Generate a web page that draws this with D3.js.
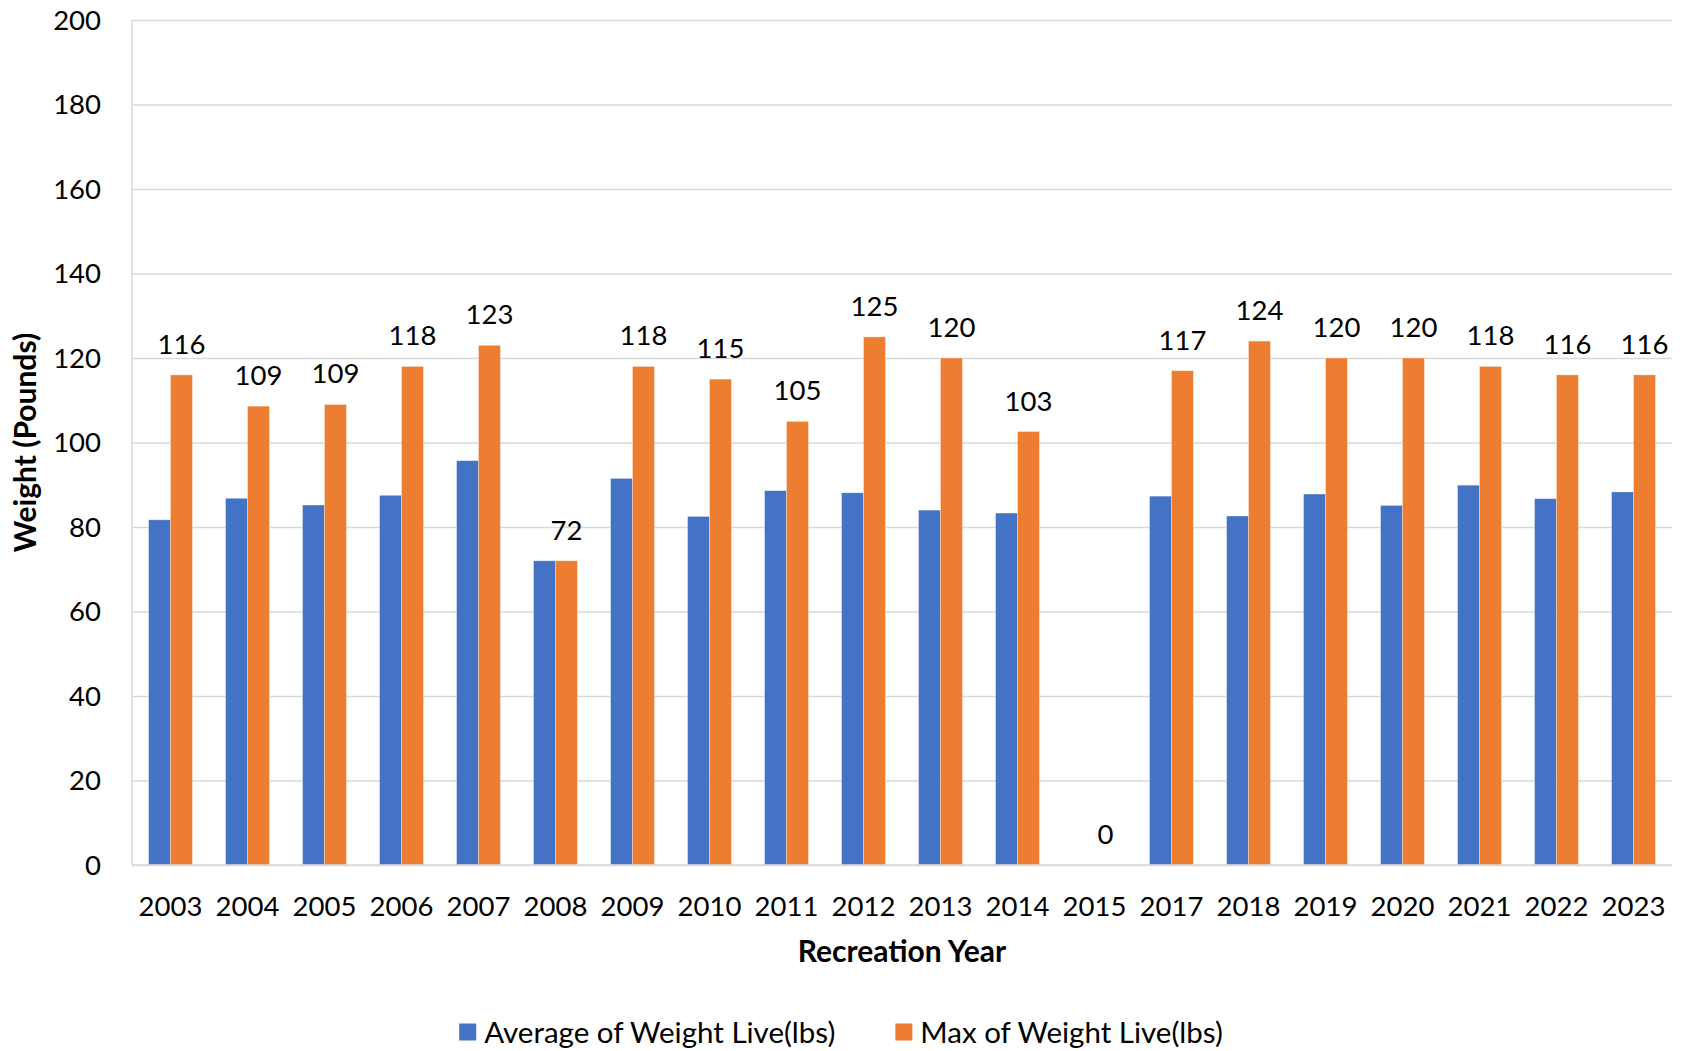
<!DOCTYPE html>
<meta charset="utf-8">
<style>
body { margin: 0; background: #fff; }
text { font-family: Lato, "Open Sans", sans-serif; fill: #000; }
.grid line { stroke: #d9d9d9; stroke-width: 1.5px; }
.grid path { display: none; }
</style>
<body>
<script src="https://cdn.jsdelivr.net/npm/d3@7"></script>
<script>

// chart values
var years = ["2003", "2004", "2005", "2006", "2007", "2008", "2009", "2010", "2011", "2012",
             "2013", "2014", "2015", "2017", "2018", "2019", "2020", "2021", "2022", "2023"];
var avgWeight = [81.7, 86.8, 85.2, 87.5, 95.7, 72.0, 91.5, 82.5, 88.6, 88.1,
                 84.0, 83.3, 0, 87.3, 82.6, 87.8, 85.1, 89.9, 86.7, 88.3];
var maxWeight = [116, 108.6, 109, 118, 123, 72, 118, 115, 105, 125,
                 120, 102.6, 0, 117, 124, 120, 120, 118, 116, 116];
var yTicks = [0, 20, 40, 60, 80, 100, 120, 140, 160, 180, 200];
var seriesNames = ["Average of Weight Live(lbs)", "Max of Weight Live(lbs)"];
var colors = ["#4472c4", "#ed7d31"];

var W = 1682, H = 1051;
var margin = {top: 20, right: 10, bottom: 186, left: 132},
    width = W - margin.left - margin.right,
    height = H - margin.top - margin.bottom;

var svg = d3.select("body").append("svg")
    .attr("width", W)
    .attr("height", H);

var g = svg.append("g")
    .attr("transform", "translate(" + margin.left + "," + margin.top + ")");

// scales
var x = d3.scaleBand().domain(years).range([0, width]).paddingInner(0.43).paddingOuter(0.215);
var x1 = d3.scaleBand().domain([0, 1]).range([0, x.bandwidth()]);
var y = d3.scaleLinear().domain([0, 200]).range([height, 0]);

// horizontal gridlines
g.append("g")
    .attr("class", "grid")
    .call(d3.axisLeft(y).tickValues(yTicks).tickSize(-width).tickFormat(""));

// left axis line
g.append("line")
    .attr("x1", 0).attr("x2", 0)
    .attr("y1", 0).attr("y2", height)
    .style("stroke", "#d9d9d9").style("stroke-width", 1.5);

// y tick labels
g.selectAll(".ylab")
    .data(yTicks)
  .enter().append("text")
    .attr("class", "ylab")
    .attr("x", -31)
    .attr("y", function(d) { return y(d); })
    .attr("dy", "0.36em")
    .attr("text-anchor", "end")
    .style("font-size", "27.5px")
    .text(function(d) { return d; });

// bars
var rows = years.map(function(yr, i) { return {year: yr, vals: [avgWeight[i], maxWeight[i]]}; });

var groups = g.selectAll(".yr")
    .data(rows)
  .enter().append("g")
    .attr("class", "yr")
    .attr("transform", function(d) { return "translate(" + x(d.year) + ",0)"; });

groups.selectAll("rect")
    .data(function(d) { return d.vals.map(function(v, k) { return {k: k, v: v}; }); })
  .enter().append("rect")
    .attr("x", function(d) { return x1(d.k); })
    .attr("width", x1.bandwidth())
    .attr("y", function(d) { return y(d.v); })
    .attr("height", function(d) { return height - y(d.v); })
    .style("fill", function(d) { return colors[d.k]; })
    .style("stroke", "#fff")
    .style("stroke-opacity", 0.4)
    .style("stroke-width", 0.8);

// data labels over the max bars
groups.append("text")
    .attr("x", x1(1) + x1.bandwidth() / 2)
    .attr("y", function(d) { return y(d.vals[1]) - 21; })
    .attr("text-anchor", "middle")
    .style("font-size", "27.5px")
    .text(function(d) { return Math.round(d.vals[1]); });

// bottom axis line
g.append("line")
    .attr("x1", 0).attr("x2", width)
    .attr("y1", height).attr("y2", height)
    .style("stroke", "#d9d9d9").style("stroke-width", 1.5);

// x tick labels
g.selectAll(".xlab")
    .data(years)
  .enter().append("text")
    .attr("class", "xlab")
    .attr("x", function(d) { return x(d) + x.bandwidth() / 2; })
    .attr("y", height + 51)
    .attr("text-anchor", "middle")
    .style("font-size", "27.5px")
    .text(function(d) { return d; });

// axis titles
g.append("text")
    .attr("x", width / 2)
    .attr("y", height + 97)
    .attr("text-anchor", "middle")
    .style("font-size", "30px")
    .style("font-weight", "bold")
    .text("Recreation Year");

svg.append("text")
    .attr("transform", "translate(36," + (margin.top + height / 2) + ") rotate(-90)")
    .attr("text-anchor", "middle")
    .style("font-size", "30px")
    .style("font-weight", "bold")
    .text("Weight (Pounds)");

// legend, centred on the chart
var legend = svg.append("g");
var items = legend.selectAll(".leg")
    .data(seriesNames)
  .enter().append("g")
    .attr("class", "leg");
items.append("rect")
    .attr("width", 17).attr("height", 17)
    .attr("y", -8.5)
    .style("fill", function(d, i) { return colors[i]; });
items.append("text")
    .attr("x", 25)
    .attr("dy", "0.36em")
    .style("font-size", "29.5px")
    .text(function(d) { return d; });

var offs = 0, pos = [];
items.each(function() {
  pos.push(offs);
  offs += 25 + d3.select(this).select("text").node().getComputedTextLength() + 60;
});
var total = offs - 60;
items.attr("transform", function(d, i) { return "translate(" + pos[i] + ",0)"; });
legend.attr("transform", "translate(" + (W / 2 - total / 2) + ",1032)");

</script>
</body>
